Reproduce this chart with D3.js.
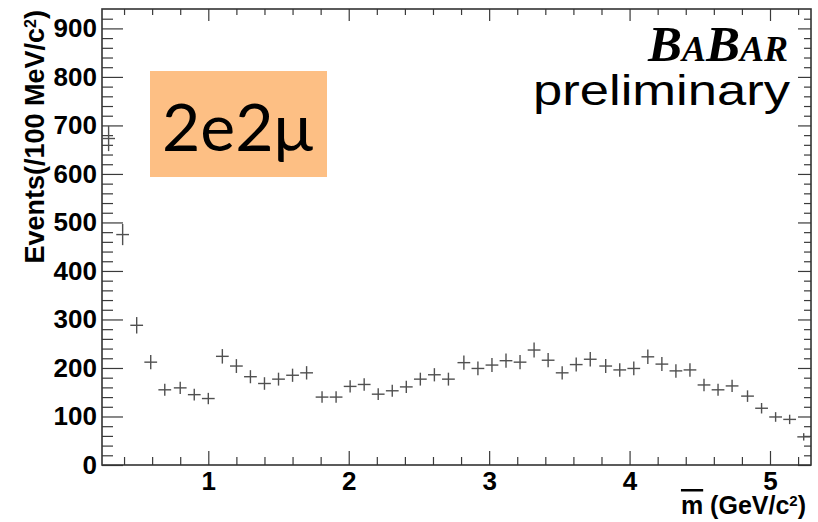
<!DOCTYPE html>
<html>
<head>
<meta charset="utf-8">
<script src="https://cdn.jsdelivr.net/npm/d3@7"></script>
<style>
  body { margin: 0; background: #fff; }
  svg { display: block; }
</style>
</head>
<body>
<svg id="chart" width="818" height="522"></svg>
<script>
// Mean di-lepton mass bin centres (GeV/c^2), one per 100 MeV bin
const massBins = [
  0.29, 0.39, 0.49, 0.59, 0.69, 0.80, 0.90, 1.00, 1.10, 1.20,
  1.30, 1.40, 1.50, 1.60, 1.70, 1.81, 1.91, 2.01, 2.11, 2.21,
  2.31, 2.41, 2.51, 2.61, 2.71, 2.82, 2.92, 3.02, 3.12, 3.22,
  3.32, 3.42, 3.52, 3.62, 3.72, 3.83, 3.93, 4.03, 4.13, 4.23,
  4.33, 4.43, 4.53, 4.63, 4.73, 4.84, 4.94, 5.04, 5.14, 5.24
];
// Events per bin
const events = [
  673, 475, 288, 212, 155, 159, 145, 137, 224, 204,
  182, 168, 177, 185, 190, 140, 140, 162, 166, 146,
  153, 161, 177, 186, 177, 211, 199, 206, 215, 212,
  237, 216, 190, 207, 218, 204, 196, 199, 223, 208,
  194, 196, 165, 155, 163, 142, 117,  99,  94,  58
];
const binWidth = 0.101;
const yTickValues = [0, 100, 200, 300, 400, 500, 600, 700, 800, 900];
const xTickValues = [1, 2, 3, 4, 5];
const channelLabel = "2e2μ";

const svg = d3.select("#chart");
const frame = { left: 102, right: 811, top: 9, bottom: 465 };

const x = d3.scaleLinear().domain([0.243, 5.292]).range([frame.left, frame.right]);
const y = d3.scaleLinear().domain([0, 940]).range([frame.bottom, frame.top]);

const axisFont = "'Liberation Sans', Arial, Helvetica, sans-serif";
const tickColor = "#3a3a3a";

const yMinor = d3.range(20, 940, 20).filter(v => v % 100 !== 0);
const xMinor = d3.range(4, 53, 2).map(v => v / 10).filter(v => Math.abs(v - Math.round(v)) > 1e-6);

function styleAxis(g, showLabels) {
  g.select(".domain").remove();
  g.selectAll(".tick line").attr("stroke", tickColor).attr("stroke-width", 1.2);
  if (!showLabels) g.selectAll(".tick text").remove();
  else g.selectAll(".tick text")
        .attr("fill", "#000")
        .style("font-family", axisFont)
        .style("font-weight", "bold")
        .style("font-size", "26px");
}

// Left axis (labelled), ticks pointing into the frame
svg.append("g").attr("transform", `translate(${frame.left},0)`)
  .call(d3.axisLeft(y).tickValues(yTickValues).tickSize(-21).tickPadding(5).tickFormat(d3.format("d")))
  .call(g => styleAxis(g, true));
svg.append("g").attr("transform", `translate(${frame.left},0)`)
  .call(d3.axisLeft(y).tickValues(yMinor).tickSize(-11).tickFormat(""))
  .call(g => styleAxis(g, false));

// Right axis ticks
svg.append("g").attr("transform", `translate(${frame.right},0)`)
  .call(d3.axisRight(y).tickValues(yTickValues).tickSize(-13).tickFormat(""))
  .call(g => styleAxis(g, false));
svg.append("g").attr("transform", `translate(${frame.right},0)`)
  .call(d3.axisRight(y).tickValues(yMinor).tickSize(-7).tickFormat(""))
  .call(g => styleAxis(g, false));

// Bottom axis (labelled)
svg.append("g").attr("transform", `translate(0,${frame.bottom})`)
  .call(d3.axisBottom(x).tickValues(xTickValues).tickSize(-14).tickPadding(7).tickFormat(d3.format("d")))
  .call(g => styleAxis(g, true));
svg.append("g").attr("transform", `translate(0,${frame.bottom})`)
  .call(d3.axisBottom(x).tickValues(xMinor).tickSize(-8).tickFormat(""))
  .call(g => styleAxis(g, false));

// Top axis ticks
svg.append("g").attr("transform", `translate(0,${frame.top})`)
  .call(d3.axisTop(x).tickValues(xTickValues).tickSize(-12).tickFormat(""))
  .call(g => styleAxis(g, false));
svg.append("g").attr("transform", `translate(0,${frame.top})`)
  .call(d3.axisTop(x).tickValues(xMinor).tickSize(-6).tickFormat(""))
  .call(g => styleAxis(g, false));

// Frame
svg.append("rect")
  .attr("x", frame.left).attr("y", frame.top)
  .attr("width", frame.right - frame.left).attr("height", frame.bottom - frame.top)
  .attr("fill", "none").attr("stroke", "#333").attr("stroke-width", 1.6);

// Histogram points with statistical error bars
svg.append("clipPath").attr("id", "plotClip").append("rect")
  .attr("x", frame.left).attr("y", frame.top)
  .attr("width", frame.right - frame.left).attr("height", frame.bottom - frame.top);

const pts = svg.append("g").attr("clip-path", "url(#plotClip)")
  .attr("stroke", "#505050").attr("stroke-width", 1.4);
const data = massBins.map((m, i) => ({ m, n: events[i] }));
pts.selectAll("line.h").data(data).join("line").attr("class", "h")
  .attr("x1", d => x(d.m - binWidth * 0.45)).attr("x2", d => x(d.m + binWidth * 0.45))
  .attr("y1", d => y(d.n)).attr("y2", d => y(d.n));
pts.selectAll("line.v").data(data).join("line").attr("class", "v")
  .attr("x1", d => x(d.m)).attr("x2", d => x(d.m))
  .attr("y1", d => y(d.n - Math.sqrt(d.n))).attr("y2", d => y(d.n + Math.sqrt(d.n)));

// Y axis title
const yTitle = svg.append("text")
  .attr("transform", "rotate(-90)")
  .attr("x", -10).attr("y", 44)
  .attr("text-anchor", "end")
  .style("font-family", axisFont).style("font-weight", "bold").style("font-size", "27px");
yTitle.append("tspan").text("Events(/100 MeV/c");
yTitle.append("tspan").attr("baseline-shift", "super").style("font-size", "16px").text("2");
yTitle.append("tspan").text(")");

// X axis title
const xTitle = svg.append("text")
  .attr("x", 806).attr("y", 514)
  .attr("text-anchor", "end")
  .style("font-family", axisFont).style("font-weight", "bold").style("font-size", "25px");
xTitle.append("tspan").style("text-decoration", "overline").text("m");
xTitle.append("tspan").text(" (GeV/c");
xTitle.append("tspan").attr("baseline-shift", "super").style("font-size", "15px").text("2");
xTitle.append("tspan").text(")");

// Experiment label
const babar = svg.append("text")
  .attr("x", 788).attr("y", 61)
  .attr("text-anchor", "end")
  .style("font-family", "'Liberation Serif', 'Times New Roman', serif")
  .style("font-weight", "bold").style("font-style", "italic");
babar.append("tspan").style("font-size", "51px").text("B");
babar.append("tspan").style("font-size", "36px").text("A");
babar.append("tspan").style("font-size", "51px").text("B");
babar.append("tspan").style("font-size", "36px").text("AR");

svg.append("text")
  .attr("x", 533).attr("y", 105)
  .attr("textLength", 257).attr("lengthAdjust", "spacingAndGlyphs")
  .style("font-family", axisFont).style("font-size", "42px")
  .text("preliminary");

// Channel tag
svg.append("rect")
  .attr("x", 150).attr("y", 71).attr("width", 177).attr("height", 106)
  .attr("fill", "#fdbf84");
svg.append("text")
  .attr("x", 162).attr("y", 151)
  .attr("textLength", 151).attr("lengthAdjust", "spacingAndGlyphs")
  .style("font-family", "Lato, 'Open Sans', sans-serif").style("font-size", "66px")
  .attr("fill", "#000")
  .text(channelLabel);
</script>
</body>
</html>
